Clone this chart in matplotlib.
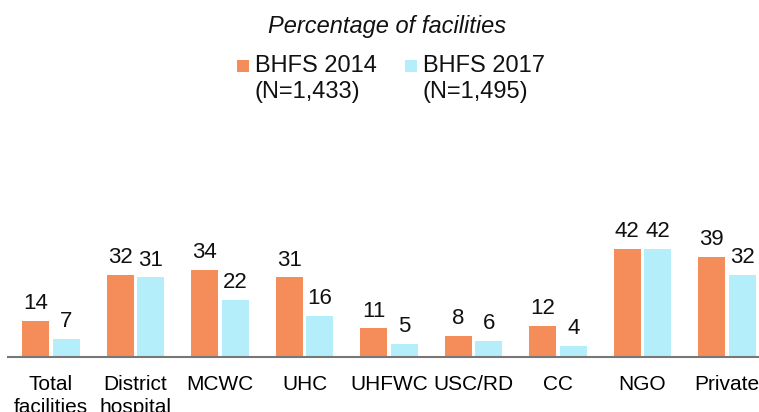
import matplotlib
matplotlib.use("Agg")
import matplotlib.pyplot as plt
from matplotlib.patches import Rectangle
import numpy as np

categories = ["Total\nfacilities", "District\nhospital", "MCWC", "UHC", "UHFWC",
              "USC/RD", "CC", "NGO", "Private"]
bhfs_2014 = [14, 32, 34, 31, 11, 8, 12, 42, 39]
bhfs_2017 = [7, 31, 22, 16, 5, 6, 4, 42, 32]
series_names = ["BHFS 2014", "BHFS 2017"]
series_n = ["(N=1,433)", "(N=1,495)"]
title = "Percentage of facilities"

c14 = "#F58D5A"
c17 = "#B3EEFA"

plt.rcParams['font.family'] = ['Liberation Sans', 'DejaVu Sans']

W, H = 759, 412
fig = plt.figure(figsize=(W / 100, H / 100), dpi=100)

# axes geometry (pixels)
left_px, base_px = 8, 356.5
ymax = 50
px_per_unit = 2.55
top_px = base_px - ymax * px_per_unit
x_left, x_right = -0.509, 8.5
group_px = 84.5
right_px = left_px + (x_right - x_left) * group_px
ax = fig.add_axes([left_px / W, (H - base_px) / H,
                   (right_px - left_px) / W, (base_px - top_px) / H])

x = np.arange(len(categories))
w = 0.32
off = 0.18
b1 = ax.bar(x - off, bhfs_2014, w, color=c14)
b2 = ax.bar(x + off, bhfs_2017, w, color=c17)

for bars, vals in ((b1, bhfs_2014), (b2, bhfs_2017)):
    for rect, v in zip(bars, vals):
        ax.annotate(f"{v}", (rect.get_x() + rect.get_width() / 2, v),
                    xytext=(0, 5), textcoords="offset points",
                    ha="center", va="bottom", fontsize=16, color="#111111")

ax.set_xlim(x_left, x_right)
ax.set_ylim(0, ymax)
ax.set_xticks(x)
ax.set_xticklabels(categories, fontsize=15, linespacing=1.3)
ax.tick_params(axis='x', length=0, pad=13)
ax.set_yticks([])
for s in ("left", "right", "top"):
    ax.spines[s].set_visible(False)
ax.spines["bottom"].set_color("#777777")
ax.spines["bottom"].set_linewidth(1.5)

fig.text(387 / W, 1 - 33 / H, title, ha="center", va="baseline",
         fontsize=17, style="italic", color="#111111")

# legend drawn manually to keep squares aligned with the first text line
for sx, tx, col, name, n in ((237, 255, c14, series_names[0], series_n[0]),
                             (405, 423, c17, series_names[1], series_n[1])):
    fig.patches.append(Rectangle((sx / W, 1 - 72 / H), 12 / W, 12 / H,
                                 transform=fig.transFigure, facecolor=col,
                                 edgecolor="none"))
    fig.text(tx / W, 1 - 72 / H, name, ha="left", va="baseline",
             fontsize=17, color="#111111")
    fig.text(tx / W, 1 - 98 / H, n, ha="left", va="baseline",
             fontsize=17, color="#111111")

fig.savefig("out.png", dpi=100)
